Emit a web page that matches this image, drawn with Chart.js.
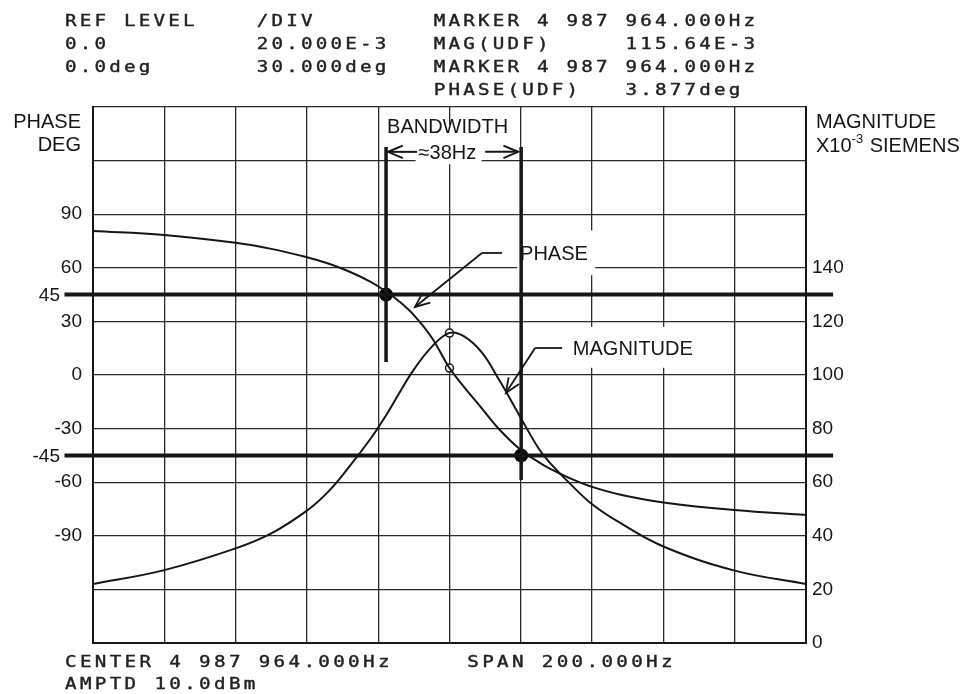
<!DOCTYPE html>
<html>
<head>
<meta charset="utf-8">
<script src="https://cdn.jsdelivr.net/npm/chart.js@4.4.0/dist/chart.umd.min.js"></script>
<style>
  html, body { margin: 0; padding: 0; background: #fff; }
</style>
</head>
<body>
<canvas id="myChart" width="968" height="694"></canvas>
<script>
// frequency offset from centre (4 987 964 Hz), span 200 Hz
const freqOffsetHz = [-100, -80, -60, -50, -40, -34, -28, -22, -18, -14, -10, -5, 0, 4, 9, 14, 20, 25, 28, 34, 40, 48, 60, 80, 100];
const phaseDeg = [80.6, 78.4, 74.0, 70.6, 65.9, 62.4, 57.8, 52.0, 47.0, 41.0, 33.5, 21.0, 3.9, -6.5, -18.5, -30.5, -42.0, -48.8, -52.3, -58.0, -62.6, -67.0, -71.3, -75.6, -78.4];
const magnitudeMS = [22.0, 27.2, 35.3, 40.9, 49.4, 56.5, 66.0, 76.5, 84.5, 93.5, 102.0, 110.5, 115.7, 114.5, 108.5, 98.0, 84.0, 72.6, 67.5, 59.2, 51.8, 44.7, 36.0, 27.0, 22.0];

const phaseTickLabels = [90, 60, 30, 0, -30, -60, -90];
const phaseRefLines = [45, -45];
const magTickLabels = [0, 20, 40, 60, 80, 100, 120, 140];

const bandEdgesHz = [-17.8, 20.1];
const markerHz = 0;
const markerMag = 115.64;
const markerPhase = 3.877;

const headerLines = [
  "REF LEVEL    /DIV        MARKER 4 987 964.000Hz",
  "0.0          20.000E-3   MAG(UDF)     115.64E-3",
  "0.0deg       30.000deg   MARKER 4 987 964.000Hz",
  "                         PHASE(UDF)   3.877deg"
];
const footerLines = [
  "CENTER 4 987 964.000Hz     SPAN 200.000Hz",
  "AMPTD 10.0dBm"
];

const INK = "#161616";
const SANS = '"Liberation Sans", Arial, sans-serif';
const MONO = '"DejaVu Sans Mono", monospace';

const toXY = (xs, ys) => xs.map((x, i) => ({ x: x, y: ys[i] }));

// pen-plotter style text: fixed pitch, slightly widened glyphs
function plotterLine(ctx, text, x, y, pitch, size) {
  ctx.font = size + "px " + MONO;
  ctx.textAlign = "left";
  ctx.textBaseline = "alphabetic";
  ctx.lineWidth = 0.4;
  [...text].forEach((ch, i) => {
    if (ch === " ") return;
    ctx.save();
    ctx.translate(x + i * pitch, y);
    ctx.scale(1.2, 1);
    ctx.fillText(ch, 0, 0);
    ctx.strokeText(ch, 0, 0);
    ctx.restore();
  });
}

function arrow(ctx, x1, y1, x2, y2, head) {
  const a = Math.atan2(y2 - y1, x2 - x1);
  ctx.beginPath();
  ctx.moveTo(x1, y1);
  ctx.lineTo(x2, y2);
  ctx.stroke();
  ctx.beginPath();
  ctx.moveTo(x2 - head * Math.cos(a - 0.4), y2 - head * Math.sin(a - 0.4));
  ctx.lineTo(x2, y2);
  ctx.lineTo(x2 - head * Math.cos(a + 0.4), y2 - head * Math.sin(a + 0.4));
  ctx.stroke();
}

const labelBoxes = {
  id: "labelBoxes",
  beforeDatasetsDraw(chart) {
    const ctx = chart.ctx;
    const sx = chart.scales.x, sp = chart.scales.phase;
    ctx.save();
    ctx.fillStyle = "#fff";
    ctx.fillRect(sx.getPixelForValue(bandEdgesHz[0]) + 2, sp.getPixelForValue(140), 128, 26);
    ctx.fillRect(sx.getPixelForValue(-9.5), sp.getPixelForValue(128), 66, 18);
    ctx.fillRect(sx.getPixelForValue(19), sp.getPixelForValue(81), 78, 45);
    ctx.fillRect(sx.getPixelForValue(32.4), sp.getPixelForValue(27), 140, 41);
    ctx.restore();
  },
  afterDatasetsDraw(chart) {
    const ctx = chart.ctx;
    const sx = chart.scales.x, sp = chart.scales.phase;
    const area = chart.chartArea;
    const X = v => sx.getPixelForValue(v);
    const P = v => sp.getPixelForValue(v);
    ctx.save();
    ctx.fillStyle = INK;
    ctx.strokeStyle = INK;
    ctx.font = "20px " + SANS;
    ctx.textBaseline = "alphabetic";

    // curve labels
    ctx.textAlign = "left";
    ctx.fillText("BANDWIDTH", X(bandEdgesHz[0]) + 1, P(135.4));
    ctx.fillText("PHASE", X(19.8), P(64.4));
    ctx.fillText("MAGNITUDE", X(34.6), P(11.2));

    // bandwidth arrows
    ctx.textAlign = "center";
    ctx.fillText("\u224838Hz", X(-0.6), P(121));
    ctx.lineWidth = 2;
    const ay = P(124.9);
    arrow(ctx, X(-9.1), ay, X(bandEdgesHz[0]) + 2, ay, 16);
    arrow(ctx, X(10), ay, X(bandEdgesHz[1]) - 3, ay, 16);

    // leader lines
    ctx.lineWidth = 1.8;
    ctx.beginPath();
    ctx.moveTo(X(14.7), P(68.3));
    ctx.lineTo(X(9.1), P(68.3));
    ctx.stroke();
    arrow(ctx, X(9.1), P(68.3), X(-9.7), P(38.1), 16);
    ctx.beginPath();
    ctx.moveTo(X(31.6), P(15.1));
    ctx.lineTo(X(24.0), P(15.1));
    ctx.stroke();
    arrow(ctx, X(24.0), P(15.1), X(15.8), P(-10.1), 16);

    // axis titles
    ctx.textAlign = "right";
    ctx.fillText("PHASE", area.left - 12, 128);
    ctx.fillText("DEG", area.left - 12, 151);
    ctx.textAlign = "left";
    const rx = area.right + 10;
    ctx.fillText("MAGNITUDE", rx, 128);
    ctx.fillText("X10", rx, 152);
    let w = ctx.measureText("X10").width;
    ctx.font = "13px " + SANS;
    ctx.fillText("-3", rx + w, 143);
    w += ctx.measureText("-3").width + 1;
    ctx.font = "20px " + SANS;
    ctx.fillText(" SIEMENS", rx + w, 152);

    // labels of the reference lines
    ctx.textAlign = "right";
    ctx.textBaseline = "middle";
    ctx.font = "19px " + SANS;
    phaseRefLines.forEach(v => ctx.fillText(String(v), area.left - 33, P(v) + 1));

    // instrument header and footer
    ctx.fillStyle = "#222";
    ctx.strokeStyle = "#222";
    headerLines.forEach((t, i) => plotterLine(ctx, t, 65, [26, 49, 72, 95][i], 14.75, 16));
    footerLines.forEach((t, i) => plotterLine(ctx, t, 65, [667, 689][i], 14.9, 16));
    ctx.restore();
  }
};

const lineStyle = { borderColor: INK, pointRadius: 0, fill: false };

const ctx = document.getElementById("myChart");
new Chart(ctx, {
  type: "line",
  data: {
    datasets: [
      { ...lineStyle, label: "Phase", data: toXY(freqOffsetHz, phaseDeg), yAxisID: "phase", borderWidth: 2, tension: 0.4 },
      { ...lineStyle, label: "Magnitude", data: toXY(freqOffsetHz, magnitudeMS), yAxisID: "mag", borderWidth: 2, tension: 0.4 },
      { ...lineStyle, label: "+45", data: [{ x: -108, y: 45 }, { x: 107.6, y: 45 }], yAxisID: "phase", borderWidth: 4, clip: false },
      { ...lineStyle, label: "-45", data: [{ x: -108, y: -45 }, { x: 107.6, y: -45 }], yAxisID: "phase", borderWidth: 4, clip: false },
      { ...lineStyle, label: "bw low", data: [{ x: bandEdgesHz[0], y: 127.6 }, { x: bandEdgesHz[0], y: 7.3 }], yAxisID: "phase", borderWidth: 3.5 },
      { ...lineStyle, label: "bw high", data: [{ x: bandEdgesHz[1], y: 127.6 }, { x: bandEdgesHz[1], y: -58.8 }], yAxisID: "phase", borderWidth: 3.5 },
      { label: "edges", data: [{ x: bandEdgesHz[0], y: 45 }, { x: bandEdgesHz[1], y: -45 }], yAxisID: "phase", showLine: false, pointRadius: 7, pointBackgroundColor: "#000", pointBorderWidth: 0 },
      { label: "marker mag", data: [{ x: markerHz, y: markerMag }], yAxisID: "mag", showLine: false, pointRadius: 4, pointBackgroundColor: "#fff", pointBorderColor: INK, pointBorderWidth: 1.5 },
      { label: "marker phase", data: [{ x: markerHz, y: markerPhase }], yAxisID: "phase", showLine: false, pointRadius: 4, pointBackgroundColor: "#fff", pointBorderColor: INK, pointBorderWidth: 1.5 }
    ]
  },
  options: {
    responsive: false,
    animation: false,
    events: [],
    layout: { padding: { top: 107, left: 0, right: 0, bottom: 0 } },
    plugins: { legend: { display: false }, tooltip: { enabled: false } },
    scales: {
      x: {
        type: "linear", min: -100, max: 100,
        ticks: { stepSize: 20, display: false },
        grid: { color: "#2a2a2a", lineWidth: 1.3, drawTicks: false },
        border: { color: INK, width: 2 },
        afterFit: s => { s.height = 51; }
      },
      phase: {
        type: "linear", position: "left", min: -150, max: 150,
        ticks: {
          stepSize: 30, padding: 11, color: INK,
          font: { family: SANS, size: 19 },
          callback: v => phaseTickLabels.includes(v) ? String(v) : ""
        },
        grid: { color: "#2a2a2a", lineWidth: 1.3, drawTicks: false },
        border: { color: INK, width: 2 },
        afterFit: s => { s.width = 93; }
      },
      mag: {
        type: "linear", position: "right", min: 0, max: 200,
        ticks: {
          stepSize: 20, padding: 6, color: INK,
          font: { family: SANS, size: 19 },
          callback: v => magTickLabels.includes(v) ? String(v) : ""
        },
        grid: { display: false, drawTicks: false },
        border: { color: INK, width: 2 },
        afterFit: s => { s.width = 162; }
      }
    }
  },
  plugins: [labelBoxes]
});
</script>
</body>
</html>
